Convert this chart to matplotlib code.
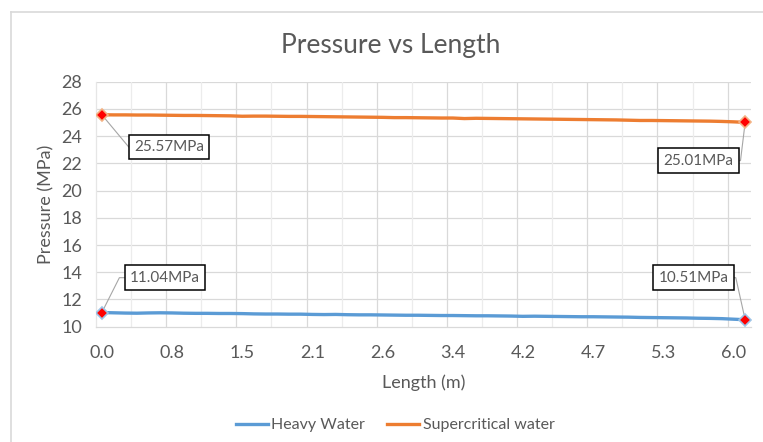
import numpy as np
import matplotlib.pyplot as plt
from matplotlib.lines import Line2D

plt.rcParams['font.family'] = ['Lato', 'DejaVu Sans']

# node positions along the channel (m), one per category
length_m = [0.00, 0.13, 0.27, 0.40, 0.53, 0.67, 0.80, 0.92, 1.03, 1.15, 1.27, 1.38,
            1.50, 1.60, 1.70, 1.80, 1.90, 2.00, 2.10, 2.18, 2.27, 2.35, 2.43, 2.52,
            2.60, 2.73, 2.87, 3.00, 3.13, 3.27, 3.40, 3.53, 3.67, 3.80, 3.93, 4.07,
            4.20, 4.28, 4.37, 4.45, 4.53, 4.62, 4.70, 4.80, 4.90, 5.00, 5.10, 5.20,
            5.30, 5.42, 5.53, 5.65, 5.77, 5.88, 6.00, 6.10]

heavy_water = [11.04, 11.02, 11.00, 10.99, 11.01, 11.02, 11.01, 10.99, 10.98, 10.98,
               10.97, 10.97, 10.96, 10.94, 10.93, 10.93, 10.92, 10.92, 10.90, 10.89,
               10.90, 10.88, 10.87, 10.87, 10.86, 10.85, 10.84, 10.84, 10.83, 10.82,
               10.82, 10.81, 10.80, 10.80, 10.79, 10.78, 10.76, 10.77, 10.76, 10.75,
               10.74, 10.73, 10.73, 10.72, 10.71, 10.70, 10.68, 10.67, 10.66, 10.65,
               10.64, 10.62, 10.61, 10.59, 10.55, 10.51]

supercritical = [25.57, 25.56, 25.56, 25.55, 25.55, 25.54, 25.53, 25.52, 25.52, 25.51,
                 25.50, 25.49, 25.46, 25.47, 25.47, 25.46, 25.45, 25.45, 25.44, 25.43,
                 25.42, 25.41, 25.40, 25.39, 25.38, 25.36, 25.36, 25.35, 25.34, 25.33,
                 25.33, 25.29, 25.31, 25.30, 25.29, 25.28, 25.27, 25.26, 25.25, 25.24,
                 25.23, 25.22, 25.21, 25.20, 25.19, 25.17, 25.15, 25.15, 25.14, 25.13,
                 25.12, 25.11, 25.10, 25.08, 25.05, 25.01]

blue = '#5b9bd5'
orange = '#ed7d31'
grey_text = '#595959'

fig = plt.figure(figsize=(7.63, 4.42), dpi=100)
ax = fig.add_axes([0.1258, 0.2609, 0.8585, 0.5543])

x = np.arange(len(length_m))
ax.plot(x, heavy_water, color=blue, lw=2.4, solid_capstyle='round', zorder=3)
ax.plot(x, supercritical, color=orange, lw=2.4, solid_capstyle='round', zorder=3)

# red diamonds on the inlet and outlet values
for series, col in [(heavy_water, '#9dc3e6'), (supercritical, '#f4b183')]:
    ends = [0, len(series) - 1]
    ax.plot(ends, [series[i] for i in ends], linestyle='none', marker='D', ms=6.5,
            mfc='red', mec=col, mew=1.2, zorder=4)

ax.set_xlim(-0.5, len(length_m) - 0.5)
ax.set_ylim(10, 28)
ax.set_yticks(np.arange(10, 29, 2))
ax.set_xticks(x[::6])
ax.set_xticklabels(['%.1f' % length_m[i] for i in x[::6]])
ax.tick_params(length=0, labelsize=13, colors=grey_text)
ax.tick_params(axis='x', pad=13)
ax.tick_params(axis='y', pad=10)

# gridlines: horizontal every 2 MPa, vertical at category boundaries
for yv in np.arange(12, 29, 2):
    ax.axhline(yv, color='#d9d9d9', lw=0.9, zorder=1)
for xv in np.arange(2.5, len(length_m) - 0.5, 3):
    major = (xv - 5.5) % 6 == 0
    ax.axvline(xv, color='#d9d9d9' if major else '#ececec', lw=0.9, zorder=1)
for side in ['top', 'right']:
    ax.spines[side].set_visible(False)
ax.spines['left'].set_color('#e6e6e6')
ax.spines['bottom'].set_color('#d9d9d9')
ax.spines['left'].set_linewidth(0.9)
ax.spines['bottom'].set_linewidth(0.9)

ax.set_xlabel('Length (m)', fontsize=13, color=grey_text, labelpad=10)
ax.set_ylabel('Pressure (MPa)', fontsize=13, color=grey_text, labelpad=5)
fig.text(0.512, 0.898, 'Pressure vs Length', ha='center', va='center',
         fontsize=19, color=grey_text)

# value labels with leader lines
def callout(xi, yi, text, xt, yt, ha, elbow):
    ax.plot([xi, elbow[0], xt], [yi, elbow[1], yt], color='#a6a6a6', lw=0.8,
            zorder=2, clip_on=False)
    ax.text(xt, yt, text, ha=ha, va='center', fontsize=11, color=grey_text,
            bbox=dict(boxstyle='square,pad=0.35', fc='white', ec='black', lw=1.1),
            zorder=5)

n = len(length_m) - 1
callout(0, supercritical[0], '%.2fMPa' % supercritical[0], 2.75, 23.2, 'left', (2.3, 23.2))
callout(n, supercritical[-1], '%.2fMPa' % supercritical[-1], 54.0, 22.2, 'right', (54.6, 22.2))
callout(0, heavy_water[0], '%.2fMPa' % heavy_water[0], 2.4, 13.6, 'left', (1.5, 13.6))
callout(n, heavy_water[-1], '%.2fMPa' % heavy_water[-1], 53.6, 13.6, 'right', (54.2, 13.6))

handles = [Line2D([], [], color=blue, lw=2.4), Line2D([], [], color=orange, lw=2.4)]
leg = fig.legend(handles, ['Heavy Water', 'Supercritical water'], loc='center',
                 bbox_to_anchor=(0.518, 0.038), ncol=2, frameon=False, fontsize=11.5,
                 handlelength=2.0, handletextpad=0.2, columnspacing=1.4)
for t in leg.get_texts():
    t.set_color(grey_text)

# chart area border
fig.add_artist(Line2D([11 / 763, 11 / 763], [0, 1 - 12 / 442], color='#d9d9d9', lw=1.2))
fig.add_artist(Line2D([11 / 763, 1], [1 - 12 / 442, 1 - 12 / 442], color='#d9d9d9', lw=1.2))

fig.savefig('out.png', dpi=100)
